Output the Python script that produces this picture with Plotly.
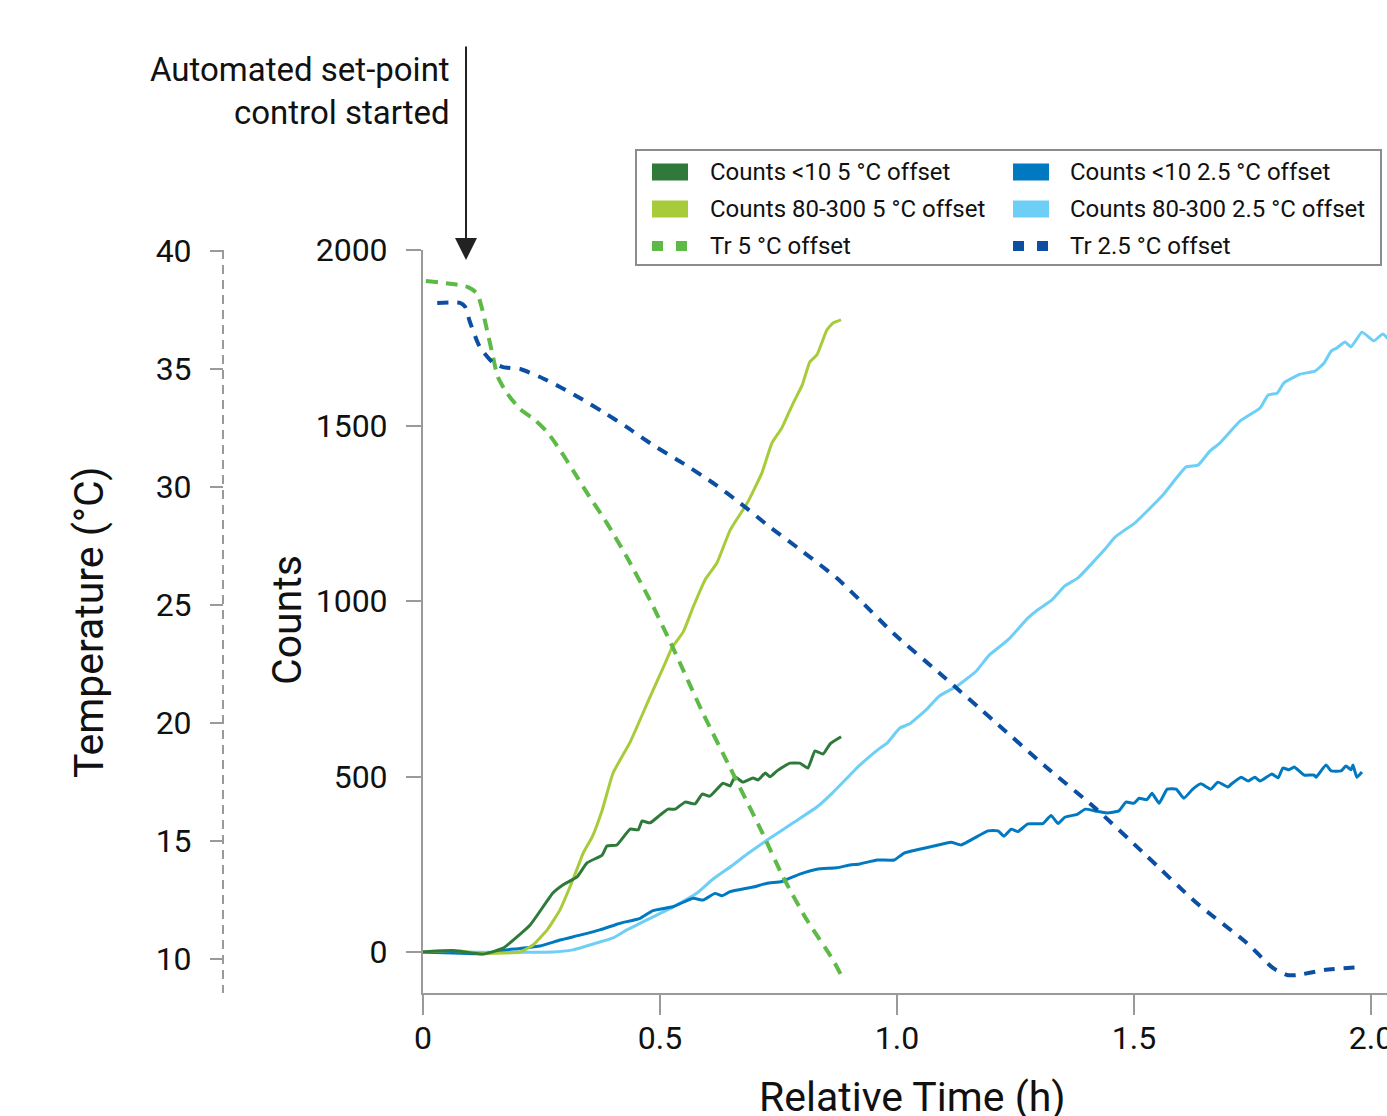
import plotly.graph_objects as go

# ---------------- data ----------------
# Counts <10 µm, 5 °C offset
t_c10_5 = [0, 0.063, 0.127, 0.169, 0.226, 0.274, 0.295, 0.325, 0.346, 0.378, 0.388, 0.409, 0.437,
           0.454, 0.462, 0.479, 0.500, 0.517, 0.532, 0.553, 0.574, 0.589, 0.605, 0.633, 0.648,
           0.658, 0.675, 0.696, 0.707, 0.722, 0.732, 0.747, 0.774, 0.795, 0.812, 0.827, 0.844,
           0.859, 0.882]
c10_5 = [0, 4, -6, 11, 77, 168, 191, 214, 254, 276, 302, 305, 350,
         348, 373, 368, 390, 407, 407, 427, 422, 450, 444, 481, 473,
         499, 484, 496, 490, 510, 499, 516, 538, 538, 524, 573, 564,
         593, 613]

# Counts 80-300 µm, 5 °C offset
t_c80_5 = [0, 0.063, 0.127, 0.205, 0.232, 0.262, 0.289, 0.316, 0.338, 0.357, 0.378, 0.401, 0.437,
           0.479, 0.511, 0.525, 0.549, 0.570, 0.595, 0.620, 0.648, 0.684, 0.715, 0.736, 0.757,
           0.781, 0.800, 0.816, 0.831, 0.852, 0.865, 0.882]
c80_5 = [0, 4, -4, 0, 20, 63, 120, 205, 282, 328, 404, 510, 598,
         727, 823, 866, 912, 983, 1060, 1108, 1202, 1279, 1365, 1450, 1493,
         1564, 1615, 1681, 1701, 1772, 1792, 1801]

# Counts <10 µm, 2.5 °C offset
t_c10_25 = [0, 0.127, 0.169, 0.205, 0.247, 0.289, 0.331, 0.373, 0.416, 0.458, 0.485, 0.527, 0.570,
            0.591, 0.616, 0.631, 0.648, 0.696, 0.726, 0.757, 0.795, 0.831, 0.873, 0.901, 0.922,
            0.958, 0.994, 1.015, 1.078, 1.114, 1.135, 1.192, 1.213, 1.226, 1.241, 1.255, 1.276,
            1.308, 1.325, 1.340, 1.354, 1.380, 1.397, 1.418, 1.443, 1.468, 1.483, 1.500, 1.511,
            1.527, 1.538, 1.553, 1.570, 1.589, 1.605, 1.624, 1.641, 1.662, 1.677, 1.698, 1.705,
            1.726, 1.741, 1.755, 1.766, 1.791, 1.804, 1.814, 1.827, 1.838, 1.859, 1.880, 1.884,
            1.905, 1.916, 1.937, 1.947, 1.958, 1.962, 1.970, 1.981]
c10_25 = [0, -5, 5, 10, 17, 34, 48, 63, 82, 96, 118, 129, 153,
          148, 167, 160, 172, 185, 196, 201, 222, 236, 240, 248, 251,
          262, 262, 282, 302, 313, 305, 345, 345, 330, 350, 343, 365,
          366, 389, 366, 384, 392, 407, 402, 396, 402, 427, 424, 438,
          434, 452, 424, 464, 464, 438, 464, 479, 464, 484, 470, 478,
          498, 487, 498, 487, 507, 496, 524, 519, 527, 504, 504, 498,
          533, 516, 516, 530, 519, 533, 498, 513]

# Counts 80-300 µm, 2.5 °C offset
t_c80_25 = [0, 0.274, 0.316, 0.367, 0.401, 0.430, 0.485, 0.527, 0.578, 0.612, 0.654, 0.684, 0.726,
            0.781, 0.831, 0.865, 0.907, 0.922, 0.964, 0.979, 1.006, 1.027, 1.063, 1.089, 1.127,
            1.167, 1.194, 1.234, 1.276, 1.297, 1.327, 1.354, 1.382, 1.439, 1.460, 1.504, 1.561,
            1.610, 1.635, 1.660, 1.681, 1.724, 1.766, 1.783, 1.802, 1.816, 1.850, 1.882, 1.901,
            1.916, 1.928, 1.945, 1.958, 1.981, 2.006, 2.025, 2.040]
c80_25 = [0, 0, 6, 26, 40, 63, 100, 128, 168, 208, 248, 279, 319,
          368, 413, 455, 513, 533, 581, 595, 638, 650, 692, 729, 758,
          800, 845, 889, 951, 975, 1003, 1043, 1066, 1148, 1182, 1225, 1302,
          1382, 1387, 1427, 1450, 1513, 1550, 1587, 1592, 1621, 1646, 1655, 1678,
          1712, 1721, 1738, 1724, 1766, 1741, 1761, 1741]

# Tr (reactor temperature), 5 °C offset
t_tr5 = [0.006, 0.063, 0.095, 0.114, 0.124, 0.135, 0.146, 0.158, 0.177, 0.205, 0.236, 0.262, 0.289,
         0.316, 0.346, 0.388, 0.430, 0.479, 0.527, 0.591, 0.648, 0.717, 0.759, 0.810, 0.865, 0.884]
tr5 = [38.73, 38.6, 38.47, 38.2, 37.6, 36.65, 35.68, 34.66, 33.98, 33.3, 32.84, 32.33, 31.57,
       30.72, 29.75, 28.47, 27.03, 25.2, 23.2, 20.4, 18.1, 15.3, 13.5, 11.65, 9.96, 9.24]

# Tr (reactor temperature), 2.5 °C offset
t_tr25 = [0.030, 0.078, 0.089, 0.099, 0.120, 0.146, 0.169, 0.205, 0.247, 0.289, 0.331, 0.380, 0.430,
          0.485, 0.549, 0.612, 0.669, 0.732, 0.802, 0.873, 0.928, 0.994, 1.099, 1.205, 1.312,
          1.418, 1.525, 1.631, 1.738, 1.793, 1.823, 1.844, 1.901, 1.979]
tr25 = [37.8, 37.8, 37.63, 36.99, 35.93, 35.3, 35.08, 35.0, 34.66, 34.24, 33.77, 33.18, 32.54,
        31.78, 31.0, 30.17, 29.32, 28.3, 27.25, 26.14, 25.08, 23.77, 21.95, 20.08, 18.18,
        16.4, 14.4, 12.39, 10.68, 9.62, 9.32, 9.32, 9.53, 9.66]

x_tickvals = [0, 0.5, 1.0, 1.5, 2.0]
x_ticktext = ["0", "0.5", "1.0", "1.5", "2.0"]
y_tickvals = [0, 500, 1000, 1500, 2000]
y2_tickvals = [10, 15, 20, 25, 30, 35, 40]

# legend: columns (5 °C | 2.5 °C), rows (<10, 80-300, Tr)
legend_names = [["Counts <10 5 °C offset", "Counts 80-300 5 °C offset", "Tr 5 °C offset"],
                ["Counts <10 2.5 °C offset", "Counts 80-300 2.5 °C offset", "Tr 2.5 °C offset"]]

# ---------------- styles ----------------
C_C10_5 = "#2F7A3B"
C_C80_5 = "#A8CB3A"
C_C10_25 = "#0079C1"
C_C80_25 = "#6DCFF6"
C_TR5 = "#5DBA47"
C_TR25 = "#0B4EA2"
legend_colors = [[C_C10_5, C_C80_5, C_TR5], [C_C10_25, C_C80_25, C_TR25]]
FONT = "Roboto"
AX = "#9a9a9a"
TXT = "#111"

W, H = 1387, 1116
def fx(px):                   # page pixel -> paper x
    return px / W
def fy(py):                   # page pixel -> paper y
    return 1 - py / H

px_left, px_right = 423, 1387
py_top, py_bot = 250, 993
px_temp = 223
px_per_h = 474.0

fig = go.Figure()

sm = dict(shape="spline", smoothing=0.4)
fig.add_trace(go.Scatter(x=t_c80_25, y=c80_25, mode="lines", name="Counts 80-300 2.5 °C offset",
                         showlegend=False, line=dict(color=C_C80_25, width=3, **sm)))
fig.add_trace(go.Scatter(x=t_c10_25, y=c10_25, mode="lines", name="Counts <10 2.5 °C offset",
                         showlegend=False, line=dict(color=C_C10_25, width=3, **sm)))
fig.add_trace(go.Scatter(x=t_c80_5, y=c80_5, mode="lines", name="Counts 80-300 5 °C offset",
                         showlegend=False, line=dict(color=C_C80_5, width=3, **sm)))
fig.add_trace(go.Scatter(x=t_c10_5, y=c10_5, mode="lines", name="Counts <10 5 °C offset",
                         showlegend=False, line=dict(color=C_C10_5, width=3, **sm)))
fig.add_trace(go.Scatter(x=t_tr5, y=tr5, yaxis="y2", mode="lines", name="Tr 5 °C offset",
                         showlegend=False,
                         line=dict(color=C_TR5, width=4, dash="12px,8px", shape="spline", smoothing=0.6)))
fig.add_trace(go.Scatter(x=t_tr25, y=tr25, yaxis="y2", mode="lines", name="Tr 2.5 °C offset",
                         showlegend=False,
                         line=dict(color=C_TR25, width=4, dash="11px,9px", shape="spline", smoothing=0.6)))

count_per_px = 2000 / (952 - 250)
count_top = 2000 + (250 - py_top) * count_per_px
count_bot = -(py_bot - 952) * count_per_px
temp_per_px = 30 / (959 - 251)
temp_top = 40 + (251 - py_top) * temp_per_px
temp_bot = 10 - (py_bot - 959) * temp_per_px
x_max = (px_right - px_left) / px_per_h

tickfont = dict(family=FONT, size=32, color=TXT)

fig.update_layout(
    width=W, height=H,
    margin=dict(l=0, r=0, t=0, b=0, autoexpand=False),
    paper_bgcolor="white", plot_bgcolor="white",
    template="none",
    font=dict(family=FONT, color=TXT),
    showlegend=False,
    xaxis=dict(domain=[fx(px_left), fx(px_right)], range=[0, x_max], automargin=False,
               tickvals=x_tickvals, ticktext=x_ticktext, tickfont=tickfont,
               ticks="outside", ticklen=20, tickwidth=2, tickcolor=AX,
               showline=True, linecolor=AX, linewidth=2, showgrid=False, zeroline=False,
               ticklabelstandoff=-4, ticklabeloverflow="allow"),
    yaxis=dict(domain=[fy(py_bot), fy(py_top)], range=[count_bot, count_top], automargin=False,
               tickvals=y_tickvals, tickfont=tickfont,
               ticks="outside", ticklen=15, tickwidth=2, tickcolor=AX,
               showline=True, linecolor=AX, linewidth=2, showgrid=False, zeroline=False,
               ticklabelstandoff=12, ticklabeloverflow="allow"),
    yaxis2=dict(overlaying="y", anchor="free", position=fx(px_temp), side="left", automargin=False,
                range=[temp_bot, temp_top], tickvals=y2_tickvals, tickfont=tickfont,
                ticks="outside", ticklen=13, tickwidth=2, tickcolor=AX,
                showline=False, showgrid=False, zeroline=False, ticklabelstandoff=12,
                ticklabeloverflow="allow"),
)

# dashed temperature axis line
fig.add_shape(type="line", xref="paper", yref="paper",
              x0=fx(px_temp), x1=fx(px_temp), y0=fy(py_top), y1=fy(py_bot),
              line=dict(color=AX, width=2, dash="9px,6px"))

# legend box
fig.add_shape(type="rect", xref="paper", yref="paper",
              x0=fx(636), x1=fx(1381), y0=fy(150), y1=fy(265),
              line=dict(color="#8c8c8c", width=2), fillcolor="white", layer="above")
col_sw = [652, 1013]
col_tx = [708, 1068]
row_cy = [172, 209, 246]
for c in range(2):
    for r in range(3):
        col = legend_colors[c][r]
        x0 = col_sw[c]
        cy = row_cy[r]
        if r < 2:
            fig.add_shape(type="rect", xref="paper", yref="paper",
                          x0=fx(x0), x1=fx(x0 + 36), y0=fy(cy - 8.5), y1=fy(cy + 8.5),
                          line=dict(width=0), fillcolor=col, layer="above")
        else:
            for k in range(2):
                xs = x0 + k * 24
                fig.add_shape(type="rect", xref="paper", yref="paper",
                              x0=fx(xs), x1=fx(xs + 11), y0=fy(cy - 5), y1=fy(cy + 5),
                              line=dict(width=0), fillcolor=col, layer="above")
        fig.add_annotation(x=fx(col_tx[c]), y=fy(cy), xref="paper", yref="paper",
                           xanchor="left", yanchor="middle", showarrow=False,
                           text=legend_names[c][r], font=dict(family=FONT, size=24, color=TXT))

# annotation arrow
fig.add_annotation(x=(466 - px_left) / px_per_h, y=(952 - 260) * count_per_px, xref="x", yref="y",
                   ax=0, ay=-215, text="", showarrow=True, arrowhead=2, arrowsize=2.2,
                   arrowwidth=2, arrowcolor="#222", standoff=0)
fig.add_annotation(x=fx(452), y=fy(90.5), xref="paper", yref="paper",
                   xanchor="right", yanchor="middle", align="right", showarrow=False,
                   text="Automated set-point<br>control started",
                   font=dict(family=FONT, size=33, color=TXT))

# axis titles
fig.add_annotation(x=fx(287), y=fy(620), xref="paper", yref="paper", showarrow=False,
                   xanchor="center", yanchor="middle",
                   text="Counts", textangle=-90, font=dict(family=FONT, size=41, color=TXT))
fig.add_annotation(x=fx(89), y=fy(622), xref="paper", yref="paper", showarrow=False,
                   xanchor="center", yanchor="middle",
                   text="Temperature (°C)", textangle=-90, font=dict(family=FONT, size=41, color=TXT))
fig.add_annotation(x=fx(912), y=fy(1097), xref="paper", yref="paper", showarrow=False,
                   xanchor="center", yanchor="middle",
                   text="Relative Time (h)", font=dict(family=FONT, size=41, color=TXT))

fig.write_html("out.html", config={"displayModeBar": False},
               post_script="document.body.style.margin='0';document.body.style.overflow='hidden';")
